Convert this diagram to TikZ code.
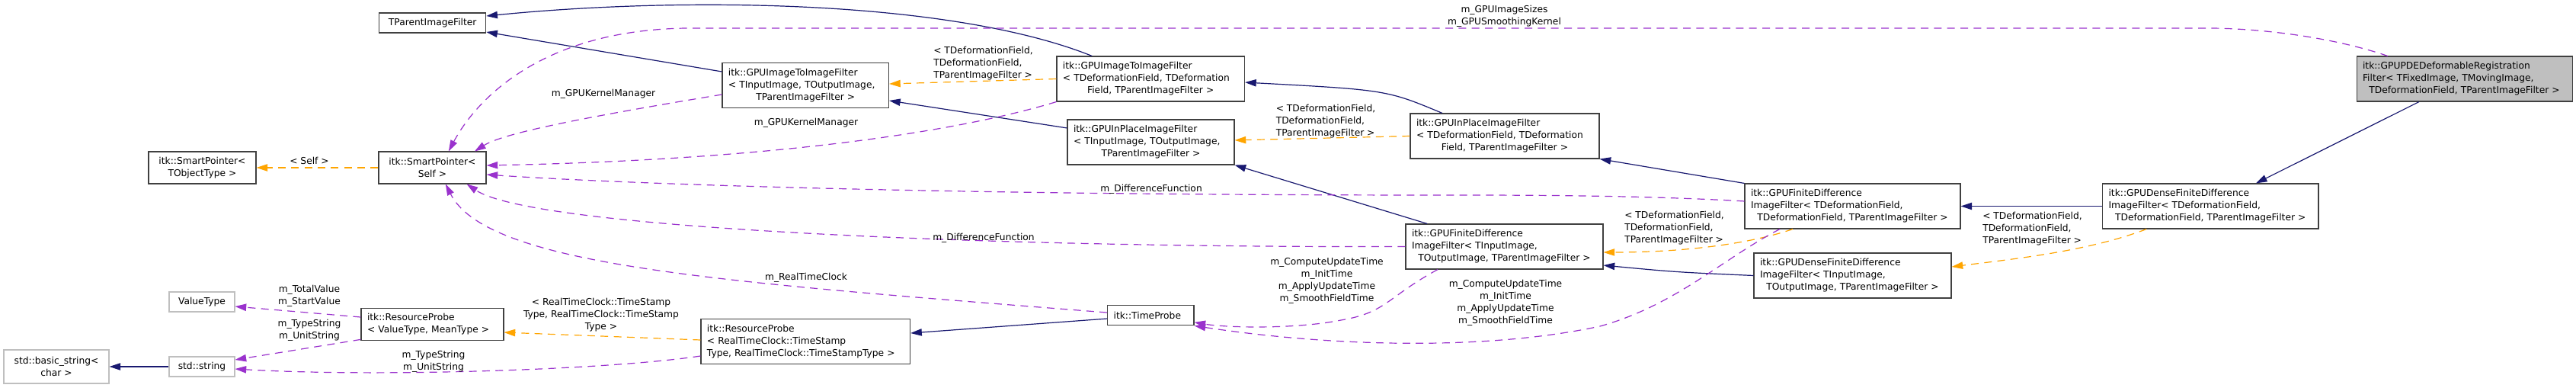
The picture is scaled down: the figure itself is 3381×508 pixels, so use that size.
\documentclass[tikz,border=0pt]{standalone}
\usepackage{fontspec}
\setmainfont{DejaVu Sans}
\usetikzlibrary{arrows.meta}
\definecolor{edgeblue}{RGB}{25,25,112}
\definecolor{edgeorange}{RGB}{255,165,0}
\definecolor{edgepurple}{RGB}{154,50,205}
\definecolor{boxline}{RGB}{64,64,64}
\definecolor{extline}{RGB}{191,191,191}
\definecolor{rootfill}{RGB}{191,191,191}
\setlength{\parindent}{0pt}

\begin{document}
\begin{tikzpicture}[
    x=0.75pt, y=-0.75pt,
    every node/.style={font=\fontsize{9.2}{12}\selectfont},
    classbox/.style={draw=boxline, fill=white, line width=0.8pt, inner xsep=6pt, inner ysep=0pt, align=left, minimum height=44.25pt},
    extbox/.style={classbox, draw=extline},
    rootbox/.style={classbox, fill=rootfill},
    inherit/.style={draw=edgeblue, line width=0.9pt, -{Triangle[length=11pt, width=7pt]}},
    tmpl/.style={draw=edgeorange, line width=0.9pt, dash pattern=on 7.5pt off 5.5pt, -{Triangle[length=11pt, width=7pt]}},
    usage/.style={draw=edgepurple, line width=0.9pt, dash pattern=on 7.5pt off 5.5pt, -{Triangle[length=11pt, width=7pt]}},
    elabel/.style={inner sep=0pt, align=center},
    tlabel/.style={inner sep=0pt, align=left, anchor=west}
  ]
    \path[use as bounding box, fill=white] (0,0) rectangle (3381,508);

    % classes
    \node[classbox, minimum height=19.5pt, align=center, text width=93pt] (tpif) at (567.75,30) {TParentImageFilter};
    \node[classbox, text width=151.9pt] (gitoi) at (1057.25,112) {itk::GPUImageToImageFilter\\< TInputImage, TOutputImage,\\\makebox[\hsize]{TParentImageFilter >}};
    \node[classbox, text width=172.9pt] (gitoidef) at (1510.25,103.5) {itk::GPUImageToImageFilter\\< TDeformationField, TDeformation\\\makebox[\hsize]{Field, TParentImageFilter >}};
    \node[classbox, minimum height=31.5pt, align=center, text width=93.75pt] (spobj) at (265.5,220) {itk::SmartPointer<\\TObjectType >};
    \node[classbox, minimum height=31.5pt, align=center, text width=93.75pt] (spself) at (567.5,220) {itk::SmartPointer<\\Self >};
    \node[classbox, text width=152.25pt] (ginp) at (1510.5,186.5) {itk::GPUInPlaceImageFilter\\< TInputImage, TOutputImage,\\\makebox[\hsize]{TParentImageFilter >}};
    \node[classbox, text width=174pt] (ginpdef) at (1975,178.5) {itk::GPUInPlaceImageFilter\\< TDeformationField, TDeformation\\\makebox[\hsize]{Field, TParentImageFilter >}};
    \node[classbox, text width=182.25pt] (gfd) at (1974.5,323.5) {itk::GPUFiniteDifference\\ImageFilter< TInputImage,\\\makebox[\hsize]{TOutputImage, TParentImageFilter >}};
    \node[classbox, text width=200.25pt] (gfddef) at (2431.5,270.5) {itk::GPUFiniteDifference\\ImageFilter< TDeformationField,\\\makebox[\hsize]{TDeformationField, TParentImageFilter >}};
    \node[classbox, text width=182.25pt] (gdfd) at (2431.5,361.5) {itk::GPUDenseFiniteDifference\\ImageFilter< TInputImage,\\\makebox[\hsize]{TOutputImage, TParentImageFilter >}};
    \node[classbox, text width=200.6pt] (gdfddef) at (2901.25,270.5) {itk::GPUDenseFiniteDifference\\ImageFilter< TDeformationField,\\\makebox[\hsize]{TDeformationField, TParentImageFilter >}};
    \node[rootbox, text width=200.25pt] (gpde) at (3234.5,103.5) {itk::GPUPDEDeformableRegistration\\Filter< TFixedImage, TMovingImage,\\\makebox[\hsize]{TDeformationField, TParentImageFilter >}};
    \node[classbox, minimum height=20pt, text width=73pt] (tprobe) at (1510.3,413.5) {itk::TimeProbe};
    \node[classbox, text width=194pt] (rprtc) at (1057.3,448) {itk::ResourceProbe\\< RealTimeClock::TimeStamp\\Type, RealTimeClock::TimeStampType >};
    \node[classbox, minimum height=32pt, text width=128.25pt] (rpvt) at (567.5,425.5) {itk::ResourceProbe\\< ValueType, MeanType >};
    \node[extbox, minimum height=19.5pt, align=center, text width=52.5pt] (valtype) at (265,396) {ValueType};
    \node[extbox, minimum height=33pt, align=center, text width=91.5pt] (bstr) at (74,481) {std::basic\_string<\\char >};
    \node[extbox, minimum height=19.5pt, align=center, text width=52.5pt] (stdstr) at (265,481) {std::string};

    % inheritance
    \draw[inherit] ([xshift=-57.75pt]gitoidef.north) .. controls (1250,0) and (900,-5) .. ([yshift=6.75pt]tpif.east);
    \draw[inherit] ([yshift=13.5pt]gitoi.west) -- ([yshift=-9pt]tpif.east);
    \draw[inherit] ([yshift=13.9pt]ginp.west) -- ([yshift=-15pt]gitoi.east);
    \draw[inherit] ([xshift=-61.5pt]ginpdef.north) .. controls (1820,118) .. ([yshift=-3.4pt]gitoidef.east);
    \draw[inherit] ([xshift=-76pt]gfd.north) -- (ginp.south east);
    \draw[inherit] (gfddef.north west) -- (ginpdef.south east);
    \draw[inherit] (gdfd.west) .. controls (2200,357) .. ([yshift=-18.4pt]gfd.east);
    \draw[inherit] (gdfddef.west) -- (gfddef.east);
    \draw[inherit] ([xshift=-44.6pt]gpde.south) -- ([xshift=44.7pt]gdfddef.north);
    \draw[inherit] ([yshift=-3.4pt]tprobe.west) -- ([yshift=8.25pt]rprtc.east);
    \draw[inherit] (stdstr.west) -- (bstr.east);

    % template instances
    \draw[tmpl] (gitoidef.west) -- ([yshift=1.5pt]gitoi.east);
    \node[tlabel] (litoi) at (1225,83) {< TDeformationField,\\TDeformationField,\\TParentImageFilter >};
    \draw[tmpl] (ginpdef.west) -- ([yshift=1.9pt]ginp.east);
    \node[tlabel] (linp) at (1674.5,159) {< TDeformationField,\\TDeformationField,\\TParentImageFilter >};
    \draw[tmpl] ([xshift=-58.9pt]gfddef.south) .. controls (2290,322) and (2200,331) .. ([yshift=-5.6pt]gfd.east);
    \node[tlabel] (lfd) at (2132,299) {< TDeformationField,\\TDeformationField,\\TParentImageFilter >};
    \draw[tmpl] ([xshift=-63pt]gdfddef.south) .. controls (2740,330) and (2640,340) .. ([yshift=8.6pt]gdfd.east);
    \node[tlabel] (ldfd) at (2602,300) {< TDeformationField,\\TDeformationField,\\TParentImageFilter >};
    \draw[tmpl] ([yshift=1.5pt]rprtc.west) -- ([yshift=-7.9pt]rpvt.east);
    \node[elabel] (lrp) at (789,413) {< RealTimeClock::TimeStamp\\Type, RealTimeClock::TimeStamp\\Type >};
    \draw[tmpl] (spself.west) -- (spobj.east);
    \node[elabel] (lsp) at (406,211) {< Self >};

    % members
    \draw[usage] ([xshift=-75.4pt]gpde.north) .. controls (3050,45) and (2950,37) .. (2900,37) -- (900,37) .. controls (700,40) and (620,140) .. ([xshift=16pt]spself.north);
    \node[elabel] (lsizes) at (1974.5,21) {m\_GPUImageSizes\\m\_GPUSmoothingKernel};
    \draw[usage] ([yshift=-9pt]gitoi.west) .. controls (760,155) and (660,175) .. ([xshift=41.6pt]spself.north);
    \node[elabel] (lkm) at (792,123) {m\_GPUKernelManager};
    \draw[usage] (gitoidef.south west) .. controls (1250,175) and (1000,210) .. ([yshift=2.25pt]spself.east);
    \node[elabel] (lkmdef) at (1058,161) {m\_GPUKernelManager};
    \draw[usage] ([yshift=4.9pt]gfddef.west) .. controls (2150,256) and (2000,256) .. (1900,256) .. controls (1200,256) and (800,240) .. ([yshift=-6.75pt]spself.east);
    \node[elabel] (ldfdef) at (1511,248) {m\_DifferenceFunction};
    \draw[usage] (gfd.west) .. controls (1300,325) and (700,300) .. ([xshift=-19.5pt]spself.south east);
    \node[elabel] (ldf) at (1291,312) {m\_DifferenceFunction};
    \draw[usage] ([yshift=2.6pt]tprobe.west) .. controls (950,370) and (640,350) .. ([xshift=13pt]spself.south);
    \node[elabel] (lclock) at (1058,364) {m\_RealTimeClock};
    \draw[usage] ([xshift=-65.6pt]gfd.south) .. controls (1820,390) and (1820,410) .. (1760,420) .. controls (1700,432) and (1610,430) .. ([yshift=-7pt]tprobe.east);
    \node[elabel] (ltime) at (1741.5,368) {m\_ComputeUpdateTime\\m\_InitTime\\m\_ApplyUpdateTime\\m\_SmoothFieldTime};
    \draw[usage] ([xshift=-71.6pt]gfddef.south) .. controls (2260,340) and (2200,400) .. (2100,428) .. controls (1950,460) and (1750,455) .. (tprobe.south east);
    \node[elabel] (ltimedef) at (1976,397) {m\_ComputeUpdateTime\\m\_InitTime\\m\_ApplyUpdateTime\\m\_SmoothFieldTime};
    \draw[usage] ([yshift=7.1pt]rpvt.west) -- ([yshift=-4.5pt]valtype.east);
    \node[elabel] (lvalue) at (406,388) {m\_TotalValue\\m\_StartValue};
    \draw[usage] ([yshift=1.5pt]rpvt.south west) -- ([yshift=6.75pt]stdstr.east);
    \node[elabel] (lstr) at (406,433) {m\_TypeString\\m\_UnitString};
    \draw[usage] ([yshift=-14.25pt]rprtc.west) .. controls (800,485) and (500,495) .. ([yshift=-2.25pt]stdstr.east);
    \node[elabel] (lstrrt) at (569,474) {m\_TypeString\\m\_UnitString};
\end{tikzpicture}
\end{document}
